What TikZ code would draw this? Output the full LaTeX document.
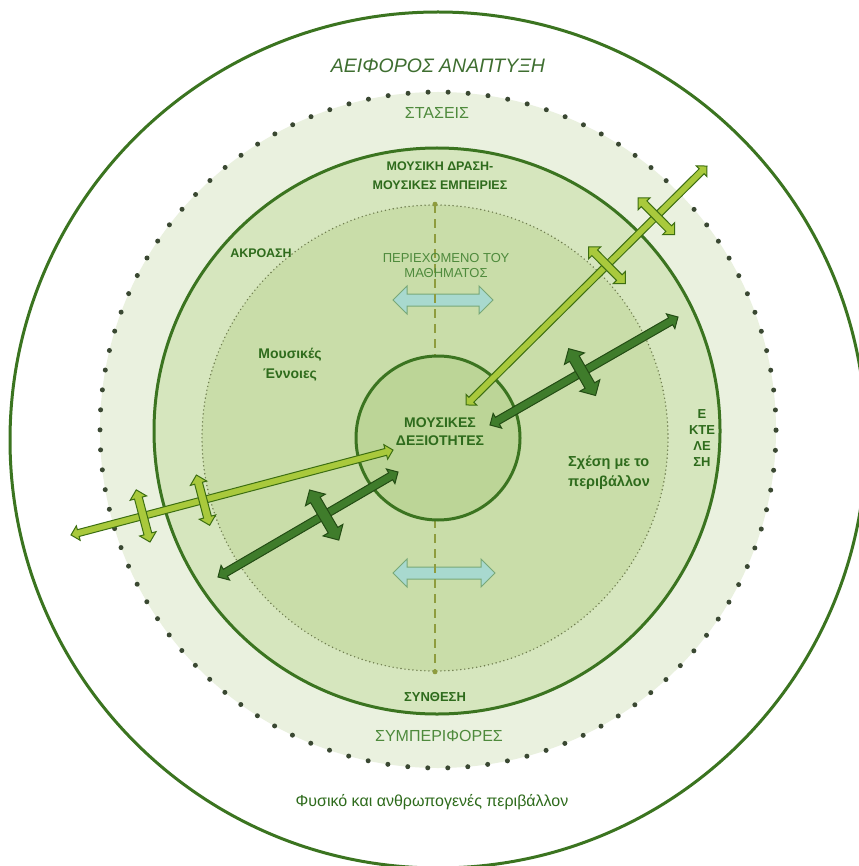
\documentclass[tikz,border=0pt]{standalone}
\usepackage{fontspec}
\setmainfont{Liberation Sans}
\usetikzlibrary{
  	shapes.arrows,
  	positioning,
  	calc
  }
\definecolor{ringline}{HTML}{3B7420}
\definecolor{dotcol}{HTML}{3A4832}
\definecolor{finedot}{HTML}{6E7C4E}
\definecolor{dashcol}{HTML}{8E9C3E}
\definecolor{txtgreen}{HTML}{2E6B1C}
\definecolor{softgreen}{HTML}{4E8A3C}
\definecolor{ringA}{HTML}{EAF1DF}
\definecolor{ringB}{HTML}{D6E6BE}
\definecolor{ringC}{HTML}{C9DDA9}
\definecolor{ringD}{HTML}{BCD597}
\definecolor{yelfill}{HTML}{A9C93C}
\definecolor{yeledge}{HTML}{3C6E12}
\definecolor{dkfill}{HTML}{3F7C2B}
\definecolor{dkedge}{HTML}{234C14}
\definecolor{tealfill}{HTML}{A8D9CF}
\definecolor{tealedge}{HTML}{78A878}
\tikzstyle{ring}=[circle,draw=ringline,line width=3pt,inner sep=0pt]
\tikzstyle{bigdots}=[circle,inner sep=0pt,draw=dotcol,line width=5pt,line cap=round,dash pattern=on 0pt off 20.035pt]
\tikzstyle{finedots}=[circle,inner sep=0pt,draw=finedot,line width=1.6pt,line cap=round,dash pattern=on 0pt off 4pt]
\tikzstyle{lbl}=[text=txtgreen,align=center,inner sep=0pt,font={\bfseries\fontsize{12.5}{19}\selectfont}]
\tikzstyle{yarr}=[double arrow,fill=yelfill,draw=yeledge,line width=1pt,inner xsep=0pt,inner ysep=3pt,minimum width=14pt,double arrow head extend=4pt]
\tikzstyle{ycross}=[yarr,inner ysep=3.5pt,minimum width=16pt,double arrow head extend=4.5pt]
\tikzstyle{darr}=[double arrow,fill=dkfill,draw=dkedge,line width=1pt,inner xsep=0pt,inner ysep=3.5pt,minimum width=16pt,double arrow head extend=4.5pt]
\tikzstyle{dcross}=[darr,inner ysep=5pt,minimum width=22pt,double arrow head extend=6pt]
\tikzstyle{tarr}=[double arrow,fill=tealfill,draw=tealedge,line width=1pt,inner xsep=0pt,inner ysep=5.5pt,minimum width=27pt,double arrow head extend=8pt]
\newcommand\fatarrow[3]{\path let \p1=($(#3)-(#2)$), \n1={veclen(\x1,\y1)} in (#2) -- (#3) node[midway,sloped,#1,minimum height=\n1] {};}

\begin{document}
\begin{tikzpicture}[x=1pt,y=-1pt]
\useasboundingbox (0,0) rectangle (858,866);
\node[ring,fill=white,minimum size=856pt] (env) at (438,440) {};
\node[bigdots,fill=ringA,minimum size=676pt] (att) at (438,430) {};
\node[ring,fill=ringB,minimum size=566pt] (act) at (437,431) {};
\node[finedots,fill=ringC,minimum size=466pt] (cont) at (435,438) {};
\coordinate (t1) at (393,300);
\coordinate (t2) at (493,300);
\coordinate (t3) at (393,573);
\coordinate (t4) at (495,573);
\fatarrow{tarr}{t1}{t2}
\fatarrow{tarr}{t3}{t4}
\draw[dashcol,line width=1.5pt,dash pattern=on 9pt off 6pt] (cont.north) -- (cont.south);
\fill[dashcol] (cont.north) circle (2.5) (cont.south) circle (2.5);
\node[ring,fill=ringD,minimum size=164pt] (skills) at (438,438) {};
\node[lbl,font={\bfseries\fontsize{14}{18}\selectfont}] (skilltxt) at (440,432) {ΜΟΥΣΙΚΕΣ\\ΔΕΞΙΟΤΗΤΕΣ};
\node[text=softgreen!80!black,font={\itshape\fontsize{19.5}{22}\selectfont}] (title) at (438,66) {ΑΕΙΦΟΡΟΣ ΑΝΑΠΤΥΞΗ};
\node[text=softgreen,font={\fontsize{16}{18}\selectfont}] (stas) at (437,113) {ΣΤΑΣΕΙΣ};
\node[lbl] (drasi) at (440,176) {ΜΟΥΣΙΚΗ ΔΡΑΣΗ-\\ΜΟΥΣΙΚΕΣ ΕΜΠΕΙΡΙΕΣ};
\node[lbl] (akro) at (261,253) {ΑΚΡΟΑΣΗ};
\node[lbl,text=softgreen,font={\fontsize{13}{15}\selectfont}] (peri) at (446,266) {ΠΕΡΙΕΧΟΜΕΝΟ ΤΟΥ\\ΜΑΘΗΜΑΤΟΣ};
\node[lbl,font={\bfseries\fontsize{14}{20}\selectfont}] (ennoies) at (290,365) {Μουσικές\\Έννοιες};
\node[lbl,font={\bfseries\fontsize{13}{16}\selectfont}] (ekt) at (702,438) {Ε\\ΚΤΕ\\ΛΕ\\ΣΗ};
\node[lbl,align=left,font={\bfseries\fontsize{14.5}{20}\selectfont}] (sxesi) at (609,473) {Σχέση με το\\περιβάλλον};
\node[lbl,font={\bfseries\fontsize{13}{15}\selectfont}] (synth) at (435,697) {ΣΥΝΘΕΣΗ};
\node[text=softgreen,font={\fontsize{16}{18}\selectfont}] (symp) at (439,736) {ΣΥΜΠΕΡΙΦΟΡΕΣ};
\node[text=txtgreen,font={\fontsize{16}{18}\selectfont}] (fys) at (432,802) {Φυσικό και ανθρωπογενές περιβάλλον};
\coordinate (ya1) at (466,405);
\coordinate (ya2) at (707,166);
\coordinate (yb1) at (393,450);
\coordinate (yb2) at (71,535);
\coordinate (dc1) at (490,425);
\coordinate (dc2) at (678,317);
\coordinate (dd1) at (398,472);
\coordinate (dd2) at (218,577);
\coordinate (xa1) at ($(ya1)!0.79!(ya2)$);
\coordinate (xa2) at ($(ya1)!0.585!(ya2)$);
\coordinate (xb1) at ($(yb1)!0.776!(yb2)$);
\coordinate (xb2) at ($(yb1)!0.59!(yb2)$);
\coordinate (xc) at ($(dc1)!0.49!(dc2)$);
\coordinate (xd) at ($(dd1)!0.41!(dd2)$);
\coordinate (xa1p) at ($(xa1)!26pt!90:(ya2)$);
\coordinate (xa1m) at ($(xa1)!26pt!-90:(ya2)$);
\coordinate (xa2p) at ($(xa2)!26pt!90:(ya2)$);
\coordinate (xa2m) at ($(xa2)!26pt!-90:(ya2)$);
\coordinate (xb1p) at ($(xb1)!27pt!90:(yb2)$);
\coordinate (xb1m) at ($(xb1)!27pt!-90:(yb2)$);
\coordinate (xb2p) at ($(xb2)!26pt!90:(yb2)$);
\coordinate (xb2m) at ($(xb2)!26pt!-90:(yb2)$);
\coordinate (xcp) at ($(xc)!27pt!90:(dc2)$);
\coordinate (xcm) at ($(xc)!27pt!-90:(dc2)$);
\coordinate (xdp) at ($(xd)!29pt!90:(dd2)$);
\coordinate (xdm) at ($(xd)!29pt!-90:(dd2)$);
\fatarrow{yarr}{ya1}{ya2}
\fatarrow{yarr}{yb1}{yb2}
\fatarrow{darr}{dc1}{dc2}
\fatarrow{darr}{dd1}{dd2}
\fatarrow{ycross}{xa1p}{xa1m}
\fatarrow{ycross}{xa2p}{xa2m}
\fatarrow{ycross}{xb1p}{xb1m}
\fatarrow{ycross}{xb2p}{xb2m}
\fatarrow{dcross}{xcp}{xcm}
\fatarrow{dcross}{xdp}{xdm}
\end{tikzpicture}
\end{document}
